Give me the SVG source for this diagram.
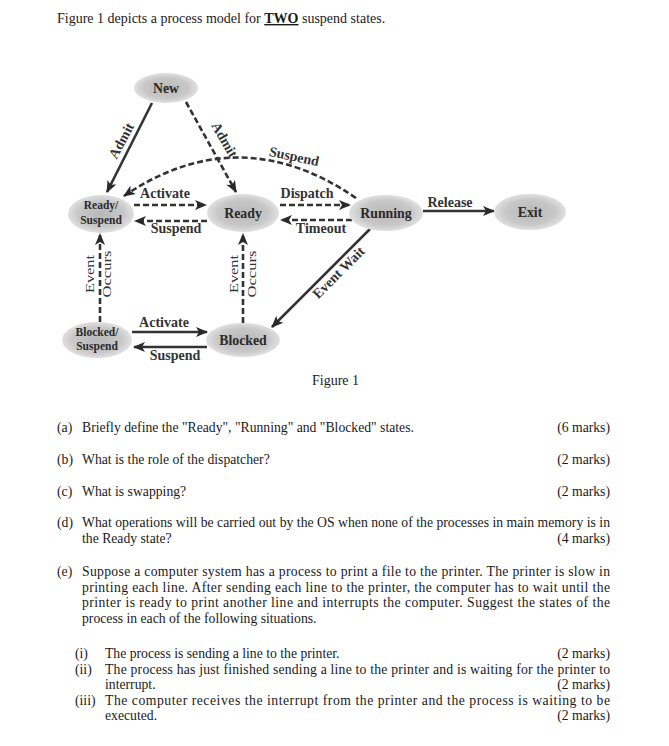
<svg xmlns="http://www.w3.org/2000/svg" width="669" height="746" viewBox="0 0 669 746">
<style>
.body{font-family:"Liberation Serif","Times New Roman",serif;font-size:13.7px;fill:#1a1a1a}
.title{font-family:"Liberation Serif","Times New Roman",serif;font-size:14px;fill:#1a1a1a}
.node{fill:url(#ng);stroke:none}
.nl{font-family:"Liberation Serif","Times New Roman",serif;font-weight:bold;font-size:13.8px;fill:#2a2a2a;text-anchor:middle}
.ns{font-size:11.5px}
.el{font-family:"Liberation Serif","Times New Roman",serif;font-weight:bold;font-size:14px;fill:#333;text-anchor:middle}
.eo{font-family:"Liberation Serif","Times New Roman",serif;font-size:13px;fill:#333;text-anchor:middle}
.e{fill:none;stroke:#333;stroke-width:2.6;marker-end:url(#ah)}
.d{stroke-dasharray:6 3}
</style>
<defs>
<radialGradient id="ng" cx="50%" cy="50%" r="50%">
<stop offset="0" stop-color="#b8b8b8"/>
<stop offset="0.7" stop-color="#c8c8c8"/>
<stop offset="1" stop-color="#e0e0e0"/>
</radialGradient>
<marker id="ah" viewBox="0 0 12 10" refX="11" refY="5" markerWidth="13" markerHeight="10" markerUnits="userSpaceOnUse" orient="auto">
<path d="M0,0 L12,5 L0,10 L3,5 z" fill="#2a2a2a"/>
</marker>
</defs>
<rect width="669" height="746" fill="#fff"/>

<text class="title" x="57" y="23">Figure 1 depicts a process model for <tspan font-weight="bold" text-decoration="underline">TWO</tspan> suspend states.</text>

<g id="connectors">
<line class="e" x1="152" y1="103" x2="107" y2="192"/>
<line class="e d" x1="186" y1="102" x2="236" y2="192"/>
<path class="e d" d="M356,198 Q239,118 124,196"/>
<line class="e d" x1="134" y1="205" x2="206" y2="205"/>
<line class="e d" x1="207" y1="221" x2="135" y2="221"/>
<line class="e d" x1="280" y1="205" x2="350" y2="205"/>
<line class="e d" x1="352" y1="220" x2="281" y2="220"/>
<line class="e" x1="423" y1="211" x2="494" y2="211"/>
<line class="e" x1="370" y1="229" x2="272" y2="327"/>
<line class="e d" x1="243" y1="323" x2="243" y2="234"/>
<line class="e d" x1="100" y1="322" x2="100" y2="234"/>
<line class="e" x1="132" y1="332" x2="207" y2="332"/>
<line class="e" x1="207" y1="347" x2="134" y2="347"/>
<text class="el" transform="translate(122,141) rotate(-62)" y="4">Admit</text>
<text class="el" transform="translate(224,140) rotate(60)" y="4">Admit</text>
<text class="el" transform="translate(294,157) rotate(12)" y="4">Suspend</text>
<text class="el" x="165" y="198">Activate</text>
<text class="el" x="176" y="233">Suspend</text>
<text class="el" x="307" y="198">Dispatch</text>
<text class="el" x="321" y="233">Timeout</text>
<text class="el" x="450" y="207" font-size="13.5">Release</text>
<text class="el" transform="translate(339,273) rotate(-45)" y="4" font-size="13">Event Wait</text>
<text class="el" x="164" y="327">Activate</text>
<text class="el" x="175" y="360">Suspend</text>
<text class="eo" transform="translate(90,274) rotate(-90)" y="4" textLength="38" lengthAdjust="spacingAndGlyphs">Event</text>
<text class="eo" transform="translate(107,274) rotate(-90)" y="4" textLength="47" lengthAdjust="spacingAndGlyphs">Occurs</text>
<text class="eo" transform="translate(234,274) rotate(-90)" y="4" textLength="38" lengthAdjust="spacingAndGlyphs">Event</text>
<text class="eo" transform="translate(252,274) rotate(-90)" y="4" textLength="47" lengthAdjust="spacingAndGlyphs">Occurs</text>
</g>

<g id="n-new"><ellipse class="node" cx="166" cy="88" rx="32" ry="15"/><text class="nl" x="166" y="93">New</text></g>
<g id="n-readysuspend"><ellipse class="node" cx="101" cy="214" rx="33" ry="19"/><text class="nl ns" x="101" y="209">Ready/</text><text class="nl ns" x="101" y="224">Suspend</text></g>
<g id="n-ready"><ellipse class="node" cx="243" cy="213" rx="36" ry="19"/><text class="nl" x="243" y="218">Ready</text></g>
<g id="n-running"><ellipse class="node" cx="386" cy="213" rx="37" ry="18"/><text class="nl" x="386" y="218">Running</text></g>
<g id="n-exit"><ellipse class="node" cx="530" cy="212" rx="36" ry="18"/><text class="nl" x="530" y="217">Exit</text></g>
<g id="n-blockedsuspend"><ellipse class="node" cx="97" cy="340" rx="35" ry="18"/><text class="nl ns" x="97" y="336">Blocked/</text><text class="nl ns" x="97" y="350">Suspend</text></g>
<g id="n-blocked"><ellipse class="node" cx="243" cy="340" rx="37" ry="17"/><text class="nl" x="243" y="345">Blocked</text></g>

<text class="title" x="312" y="385">Figure 1</text>

<g id="questions">
<text class="body" x="57" y="432">(a)</text>
<text class="body" x="82" y="432">Briefly define the "Ready", "Running" and "Blocked" states.</text>
<text class="body" x="610" y="432" text-anchor="end">(6 marks)</text>
<text class="body" x="57" y="464">(b)</text>
<text class="body" x="82" y="464">What is the role of the dispatcher?</text>
<text class="body" x="610" y="464" text-anchor="end">(2 marks)</text>
<text class="body" x="57" y="496">(c)</text>
<text class="body" x="82" y="496">What is swapping?</text>
<text class="body" x="610" y="496" text-anchor="end">(2 marks)</text>
<text class="body" x="57" y="527">(d)</text>
<text class="body" x="82" y="527" textLength="528" lengthAdjust="spacing">What operations will be carried out by the OS when none of the processes in main memory is in</text>
<text class="body" x="82" y="543">the Ready state?</text>
<text class="body" x="610" y="543" text-anchor="end">(4 marks)</text>
<text class="body" x="57" y="576">(e)</text>
<text class="body" x="82" y="576" textLength="528" lengthAdjust="spacing">Suppose a computer system has a process to print a file to the printer.  The printer is slow in</text>
<text class="body" x="82" y="592" textLength="528" lengthAdjust="spacing">printing each line.  After sending each line to the printer, the computer has to wait until the</text>
<text class="body" x="82" y="607" textLength="528" lengthAdjust="spacing">printer is ready to print another line and interrupts the computer.  Suggest the states of the</text>
<text class="body" x="82" y="623">process in each of the following situations.</text>
<text class="body" x="75" y="658">(i)</text>
<text class="body" x="105" y="658">The process is sending a line to the printer.</text>
<text class="body" x="610" y="658" text-anchor="end">(2 marks)</text>
<text class="body" x="75" y="674">(ii)</text>
<text class="body" x="105" y="674" textLength="505" lengthAdjust="spacing">The process has just finished sending a line to the printer and is waiting for the printer to</text>
<text class="body" x="105" y="689">interrupt.</text>
<text class="body" x="610" y="689" text-anchor="end">(2 marks)</text>
<text class="body" x="75" y="705">(iii)</text>
<text class="body" x="105" y="705" textLength="505" lengthAdjust="spacing">The computer receives the interrupt from the printer and the process is waiting to be</text>
<text class="body" x="105" y="720">executed.</text>
<text class="body" x="610" y="720" text-anchor="end">(2 marks)</text>
</g>
</svg>
